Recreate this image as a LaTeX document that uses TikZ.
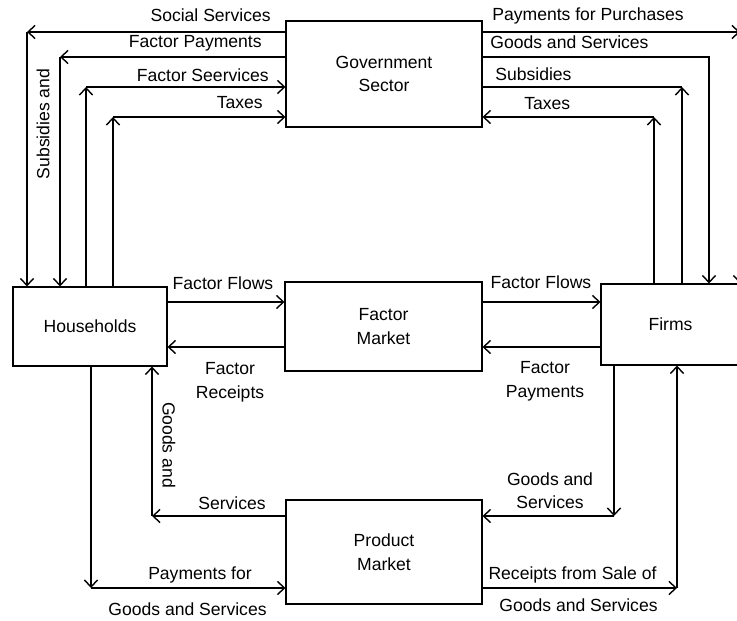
\documentclass[tikz,border=0pt]{standalone}
\usepackage{fontspec}
\setmainfont{Liberation Sans}
\usepackage{tikz}
\usetikzlibrary{arrows.meta,positioning,calc}

\begin{document}
\begin{tikzpicture}[x=0.02cm, y=-0.02cm, font=\fontsize{10}{13.5}\selectfont]
  \tikzstyle{sector} = [rectangle, draw, line width=0.6pt, align=center, inner sep=0pt]
  \tikzstyle{flow} = [-{Straight Barb[length=4pt,width=7.5pt]}, line width=0.8pt]
  \tikzstyle{link} = [line width=0.8pt]
  \tikzstyle{lbl} = [inner sep=0pt]

  \useasboundingbox (0,0) rectangle (737,621);

  % sectors and markets
  \node [sector, minimum width=3.92cm, minimum height=2.12cm] (gov) at (384,74) {Government\\Sector};
  \node [sector, minimum width=3.94cm, minimum height=1.78cm] (fmarket) at (383.5,326.5) {Factor\\Market};
  \node [sector, minimum width=3.08cm, minimum height=1.58cm] (house) at (90,326.5) {Households};
  \node [sector, minimum width=2.78cm, minimum height=1.62cm] (firms) at (670.5,324.5) {Firms};
  \node [sector, minimum width=3.92cm, minimum height=2.08cm] (pmarket) at (384,552) {Product\\Market};

  % corners of the flows
  \coordinate (ssL) at (27,32);
  \coordinate (fpL) at (60,57);
  \coordinate (fsL) at (86,87);
  \coordinate (txL) at (113,117);
  \coordinate (ppR) at (740,32);
  \coordinate (gsR) at (709,57);
  \coordinate (sbR) at (682,87);
  \coordinate (txR) at (654,117);
  \coordinate (upper) at (0,302);
  \coordinate (lower) at (0,347);
  \coordinate (gdL) at (152,516);
  \coordinate (pyL) at (91,588);
  \coordinate (gdR) at (614,516);
  \coordinate (rcR) at (677,588);

  % households and government
  \draw [flow] (gov.west |- ssL) -- (ssL);
  \draw [flow] (ssL) -- (ssL |- house.north);
  \draw [flow] (gov.west |- fpL) -- (fpL);
  \draw [flow] (fpL) -- (fpL |- house.north);
  \draw [flow] (fsL |- house.north) -- (fsL);
  \draw [flow] (fsL) -- (gov.west |- fsL);
  \draw [flow] (txL |- house.north) -- (txL);
  \draw [flow] (txL) -- (gov.west |- txL);

  % firms and government
  \draw [flow] (gov.east |- ppR) -- (ppR);
  \draw [flow] (ppR) -- (ppR |- firms.north);
  \draw [flow] (gov.east |- gsR) -| (gsR |- firms.north);
  \draw [flow] (sbR |- firms.north) -- (sbR);
  \draw [link] (sbR) -- (gov.east |- sbR);
  \draw [flow] (txR |- firms.north) -- (txR);
  \draw [flow] (txR) -- (gov.east |- txR);

  % factor market
  \draw [flow] (house.east |- upper) -- (fmarket.west |- upper);
  \draw [flow] (fmarket.west |- lower) -- (house.east |- lower);
  \draw [flow] (fmarket.east |- upper) -- (firms.west |- upper);
  \draw [flow] (firms.west |- lower) -- (fmarket.east |- lower);

  % product market
  \draw [flow] (pmarket.west |- gdL) -- (gdL);
  \draw [flow] (gdL) -- (gdL |- house.south);
  \draw [flow] (pyL |- house.south) -- (pyL);
  \draw [flow] (pyL) -- (pmarket.west |- pyL);
  \draw [flow] (gdR |- firms.south) -- (gdR);
  \draw [flow] (gdR) -- (pmarket.east |- gdR);
  \draw [flow] (pmarket.east |- rcR) -- (rcR);
  \draw [flow] (rcR) -- (rcR |- firms.south);

  % labels
  \node [lbl, anchor=base east] at (271,22) {Social Services};
  \node [lbl, anchor=base east] at (262,48) {Factor Payments};
  \node [lbl, anchor=base east] at (269,82) {Factor Seervices};
  \node [lbl, anchor=base east] at (263,109) {Taxes};
  \node [lbl, rotate=90] at (43,124) {Subsidies and};
  \node [lbl, anchor=base west] at (492,21) {Payments for Purchases};
  \node [lbl, anchor=base west] at (490,49) {Goods and Services};
  \node [lbl, anchor=base west] at (495,81) {Subsidies};
  \node [lbl, anchor=base west] at (524,110) {Taxes};
  \node [lbl, anchor=base] at (223,290) {Factor Flows};
  \node [lbl, anchor=base] at (541,289) {Factor Flows};
  \node [lbl, align=center, anchor=north] at (230,362) {Factor\\Receipts};
  \node [lbl, align=center, anchor=north] at (545,361) {Factor\\Payments};
  \node [lbl, rotate=-90] at (169,445) {Goods and};
  \node [lbl, anchor=base] at (232,509) {Services};
  \node [lbl, anchor=base] at (200,579) {Payments for};
  \node [lbl, anchor=base] at (187.5,615) {Goods and Services};
  \node [lbl, align=center, anchor=north] at (550,472) {Goods and\\Services};
  \node [lbl, anchor=base] at (572.5,579) {Receipts from Sale of};
  \node [lbl, anchor=base] at (578.5,611) {Goods and Services};
\end{tikzpicture}
\end{document}
